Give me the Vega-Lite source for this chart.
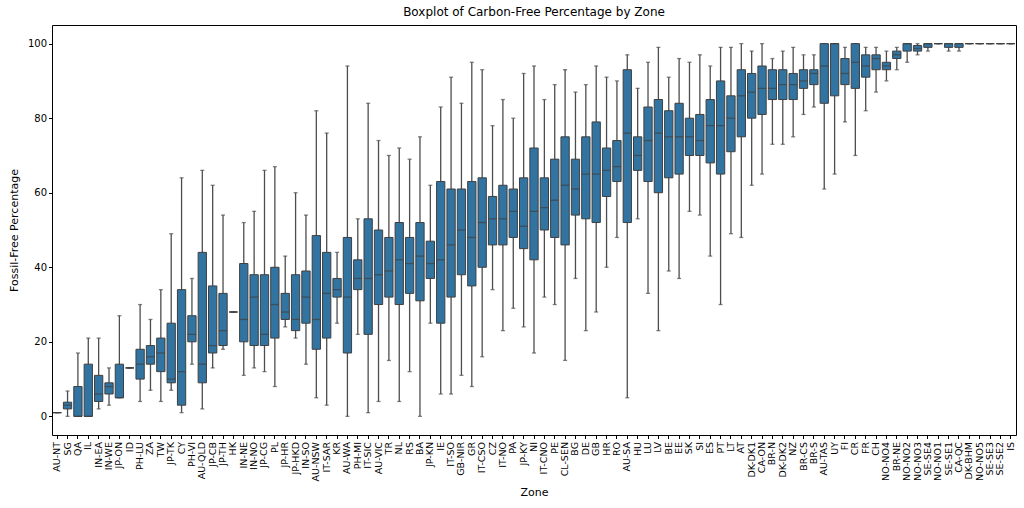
{
  "$schema": "https://vega.github.io/schema/vega-lite/v6.json",
  "autosize": "none",
  "width": 964,
  "height": 410,
  "padding": {"left": 52, "top": 25, "right": 8, "bottom": 73},
  "config": {
    "font": "DejaVu Sans",
    "view": {"stroke": "#000000", "strokeWidth": 1},
    "axis": {"grid": false, "domain": false, "tickColor": "#000000", "tickSize": 3.5, "labelColor": "#000000", "titleColor": "#000000", "labelFont": "DejaVu Sans", "titleFont": "DejaVu Sans", "titleFontWeight": "normal"},
    "title": {"font": "DejaVu Sans", "fontWeight": "normal", "fontSize": 12, "color": "#000000"}
  },
  "title": {"text": "Boxplot of Carbon-Free Percentage by Zone", "offset": 6},
  "data": {"values": [
    {"zone": "AU-NT", "lo": 1, "q1": 1, "med": 1, "q3": 1, "hi": 1},
    {"zone": "SG", "lo": 0, "q1": 2, "med": 3, "q3": 3.8, "hi": 6.8},
    {"zone": "QA", "lo": 0, "q1": 0, "med": 0, "q3": 8, "hi": 17},
    {"zone": "IL", "lo": 0, "q1": 0, "med": 0, "q3": 14, "hi": 21},
    {"zone": "IN-EA", "lo": 2, "q1": 4, "med": 6, "q3": 11, "hi": 21},
    {"zone": "IN-WE", "lo": 3, "q1": 6, "med": 8, "q3": 9, "hi": 13},
    {"zone": "JP-ON", "lo": 5, "q1": 5, "med": 5, "q3": 14, "hi": 27},
    {"zone": "ID", "lo": 13, "q1": 13, "med": 13, "q3": 13, "hi": 13},
    {"zone": "PH-LU", "lo": 4, "q1": 10, "med": 14, "q3": 18, "hi": 30},
    {"zone": "ZA", "lo": 7, "q1": 14, "med": 16, "q3": 19, "hi": 26},
    {"zone": "TW", "lo": 4, "q1": 12, "med": 17, "q3": 21, "hi": 34},
    {"zone": "JP-TK", "lo": 7, "q1": 9, "med": 10, "q3": 25, "hi": 49},
    {"zone": "CY", "lo": 1, "q1": 3, "med": 12, "q3": 34, "hi": 64},
    {"zone": "PH-VI", "lo": 14, "q1": 20, "med": 22, "q3": 27, "hi": 37},
    {"zone": "AU-QLD", "lo": 2, "q1": 9, "med": 14, "q3": 44, "hi": 66},
    {"zone": "JP-CB", "lo": 13, "q1": 17, "med": 19, "q3": 35, "hi": 62},
    {"zone": "JP-TH", "lo": 18, "q1": 19, "med": 23, "q3": 33, "hi": 54},
    {"zone": "HK", "lo": 28, "q1": 28, "med": 28, "q3": 28, "hi": 28},
    {"zone": "IN-NE", "lo": 11, "q1": 20, "med": 26, "q3": 41, "hi": 52},
    {"zone": "IN-NO", "lo": 13, "q1": 19, "med": 32, "q3": 38, "hi": 55},
    {"zone": "JP-CG", "lo": 12, "q1": 19, "med": 22, "q3": 38, "hi": 66},
    {"zone": "PL", "lo": 8, "q1": 21, "med": 30, "q3": 40, "hi": 67},
    {"zone": "JP-HR", "lo": 24, "q1": 26, "med": 28, "q3": 33, "hi": 43},
    {"zone": "JP-HKD", "lo": 21, "q1": 23, "med": 26, "q3": 38, "hi": 60},
    {"zone": "IN-SO", "lo": 14, "q1": 25, "med": 32, "q3": 39, "hi": 54},
    {"zone": "AU-NSW", "lo": 5, "q1": 18, "med": 26, "q3": 48.5, "hi": 82},
    {"zone": "IT-SAR", "lo": 3, "q1": 21, "med": 33, "q3": 44, "hi": 76},
    {"zone": "KR", "lo": 25, "q1": 32, "med": 34, "q3": 37, "hi": 44},
    {"zone": "AU-WA", "lo": 0, "q1": 17, "med": 32, "q3": 48, "hi": 94},
    {"zone": "PH-MI", "lo": 22, "q1": 34, "med": 37, "q3": 42, "hi": 53},
    {"zone": "IT-SIC", "lo": 1, "q1": 22, "med": 37, "q3": 53, "hi": 84},
    {"zone": "AU-VIC", "lo": 4, "q1": 30, "med": 38, "q3": 50, "hi": 74},
    {"zone": "TR", "lo": 15, "q1": 32, "med": 39, "q3": 48, "hi": 70},
    {"zone": "NL", "lo": 4, "q1": 30, "med": 42, "q3": 52, "hi": 72},
    {"zone": "RS", "lo": 12, "q1": 33, "med": 41, "q3": 48, "hi": 69},
    {"zone": "BA", "lo": 0, "q1": 31, "med": 43, "q3": 52, "hi": 75},
    {"zone": "JP-KN", "lo": 25, "q1": 37, "med": 41, "q3": 47, "hi": 62},
    {"zone": "IE", "lo": 6, "q1": 25, "med": 42, "q3": 63, "hi": 83},
    {"zone": "IT-SO", "lo": 6, "q1": 32, "med": 46, "q3": 61, "hi": 91},
    {"zone": "GB-NIR", "lo": 11, "q1": 38, "med": 50, "q3": 61, "hi": 84},
    {"zone": "GR", "lo": 8, "q1": 35, "med": 48, "q3": 63, "hi": 95},
    {"zone": "IT-CSO", "lo": 16, "q1": 40, "med": 52, "q3": 64, "hi": 93},
    {"zone": "CZ", "lo": 34, "q1": 46, "med": 53, "q3": 59, "hi": 78},
    {"zone": "IT-NO", "lo": 23, "q1": 46, "med": 53, "q3": 62, "hi": 85},
    {"zone": "PA", "lo": 29, "q1": 48, "med": 55, "q3": 61, "hi": 80},
    {"zone": "JP-KY", "lo": 24, "q1": 45, "med": 51, "q3": 64, "hi": 92},
    {"zone": "NI", "lo": 17, "q1": 42, "med": 55, "q3": 72, "hi": 94},
    {"zone": "IT-CNO", "lo": 32, "q1": 50, "med": 56, "q3": 64, "hi": 85},
    {"zone": "PE", "lo": 30, "q1": 48, "med": 58, "q3": 69, "hi": 89},
    {"zone": "CL-SEN", "lo": 15, "q1": 46, "med": 62, "q3": 75, "hi": 93},
    {"zone": "BG", "lo": 37, "q1": 54, "med": 61, "q3": 69, "hi": 87},
    {"zone": "DE", "lo": 23, "q1": 53, "med": 65, "q3": 75, "hi": 89},
    {"zone": "GB", "lo": 28, "q1": 52, "med": 65, "q3": 79, "hi": 94},
    {"zone": "HR", "lo": 40, "q1": 59, "med": 66, "q3": 72, "hi": 91},
    {"zone": "RO", "lo": 48, "q1": 63, "med": 67, "q3": 74, "hi": 90},
    {"zone": "AU-SA", "lo": 5, "q1": 52, "med": 76, "q3": 93, "hi": 97},
    {"zone": "HU", "lo": 53, "q1": 66, "med": 70, "q3": 75, "hi": 88},
    {"zone": "LU", "lo": 33, "q1": 63, "med": 74, "q3": 83, "hi": 95},
    {"zone": "LV", "lo": 23, "q1": 60, "med": 76, "q3": 85, "hi": 99},
    {"zone": "BE", "lo": 39, "q1": 64, "med": 75, "q3": 82, "hi": 91},
    {"zone": "EE", "lo": 37, "q1": 65, "med": 75, "q3": 84, "hi": 96},
    {"zone": "SK", "lo": 55, "q1": 70, "med": 75, "q3": 80, "hi": 95},
    {"zone": "SI", "lo": 54, "q1": 70, "med": 74, "q3": 81, "hi": 97},
    {"zone": "ES", "lo": 43, "q1": 68, "med": 78, "q3": 85, "hi": 94},
    {"zone": "PT", "lo": 30, "q1": 65, "med": 78, "q3": 90, "hi": 99},
    {"zone": "LT", "lo": 49, "q1": 71, "med": 80, "q3": 86, "hi": 99},
    {"zone": "AT", "lo": 48, "q1": 75, "med": 86, "q3": 93, "hi": 100},
    {"zone": "DK-DK1", "lo": 62, "q1": 80, "med": 87, "q3": 92, "hi": 98},
    {"zone": "CA-ON", "lo": 65, "q1": 81, "med": 88, "q3": 94, "hi": 100},
    {"zone": "BR-N", "lo": 73, "q1": 85, "med": 88, "q3": 93, "hi": 96},
    {"zone": "DK-DK2", "lo": 73, "q1": 85, "med": 89, "q3": 93, "hi": 98},
    {"zone": "NZ", "lo": 75, "q1": 85, "med": 89, "q3": 92, "hi": 99},
    {"zone": "BR-CS", "lo": 81, "q1": 88, "med": 90, "q3": 93, "hi": 97},
    {"zone": "BR-S", "lo": 83, "q1": 89, "med": 92, "q3": 93, "hi": 97},
    {"zone": "AU-TAS", "lo": 61, "q1": 84, "med": 94, "q3": 100, "hi": 100},
    {"zone": "UY", "lo": 65, "q1": 86, "med": 100, "q3": 100, "hi": 100},
    {"zone": "FI", "lo": 79, "q1": 89, "med": 92, "q3": 96, "hi": 99},
    {"zone": "CR", "lo": 70, "q1": 88, "med": 95, "q3": 100, "hi": 100},
    {"zone": "FR", "lo": 82, "q1": 91, "med": 94, "q3": 97, "hi": 99},
    {"zone": "CH", "lo": 87, "q1": 93, "med": 96, "q3": 97, "hi": 99},
    {"zone": "NO-NO4", "lo": 90, "q1": 93, "med": 94, "q3": 95, "hi": 98},
    {"zone": "BR-NE", "lo": 93, "q1": 96, "med": 97, "q3": 98, "hi": 99},
    {"zone": "NO-NO2", "lo": 95, "q1": 98, "med": 100, "q3": 100, "hi": 100},
    {"zone": "NO-NO3", "lo": 97, "q1": 98, "med": 98.7, "q3": 99.5, "hi": 100},
    {"zone": "SE-SE4", "lo": 98, "q1": 99, "med": 100, "q3": 100, "hi": 100},
    {"zone": "NO-NO1", "lo": 100, "q1": 100, "med": 100, "q3": 100, "hi": 100},
    {"zone": "SE-SE1", "lo": 98, "q1": 99, "med": 100, "q3": 100, "hi": 100},
    {"zone": "CA-QC", "lo": 98, "q1": 99, "med": 100, "q3": 100, "hi": 100},
    {"zone": "DK-BHM", "lo": 100, "q1": 100, "med": 100, "q3": 100, "hi": 100},
    {"zone": "NO-NO5", "lo": 100, "q1": 100, "med": 100, "q3": 100, "hi": 100},
    {"zone": "SE-SE3", "lo": 100, "q1": 100, "med": 100, "q3": 100, "hi": 100},
    {"zone": "SE-SE2", "lo": 100, "q1": 100, "med": 100, "q3": 100, "hi": 100},
    {"zone": "IS", "lo": 100, "q1": 100, "med": 100, "q3": 100, "hi": 100}
  ]},
  "encoding": {
    "x": {"field": "zone", "type": "nominal", "sort": null,
      "scale": {"paddingInner": 0, "paddingOuter": 0},
      "axis": {"title": "Zone", "labelAngle": 270, "labelFontSize": 9.5, "titleFontSize": 11, "titlePadding": 6, "labelPadding": 3}},
    "y": {"type": "quantitative",
      "scale": {"domain": [-5, 105], "nice": false, "zero": false},
      "axis": {"title": "Fossil-Free Percentage", "values": [0, 20, 40, 60, 80, 100], "labelFontSize": 10, "titleFontSize": 11, "titlePadding": 8}}
  },
  "layer": [
    {"mark": {"type": "rule", "color": "#4d4d4d", "strokeWidth": 1.3},
     "encoding": {"y": {"field": "lo", "type": "quantitative"}, "y2": {"field": "hi"}}},
    {"mark": {"type": "tick", "color": "#4d4d4d", "size": 4, "thickness": 1.3},
     "encoding": {"y": {"field": "lo", "type": "quantitative"}}},
    {"mark": {"type": "tick", "color": "#4d4d4d", "size": 4, "thickness": 1.3},
     "encoding": {"y": {"field": "hi", "type": "quantitative"}}},
    {"mark": {"type": "bar", "width": {"band": 0.8}, "fill": "#3274a1", "stroke": "#3f3f3f", "strokeWidth": 1},
     "encoding": {"y": {"field": "q1", "type": "quantitative"}, "y2": {"field": "q3"}}},
    {"mark": {"type": "tick", "color": "#3f3f3f", "size": 8.3, "thickness": 1.3},
     "encoding": {"y": {"field": "med", "type": "quantitative"}}}
  ]
}
